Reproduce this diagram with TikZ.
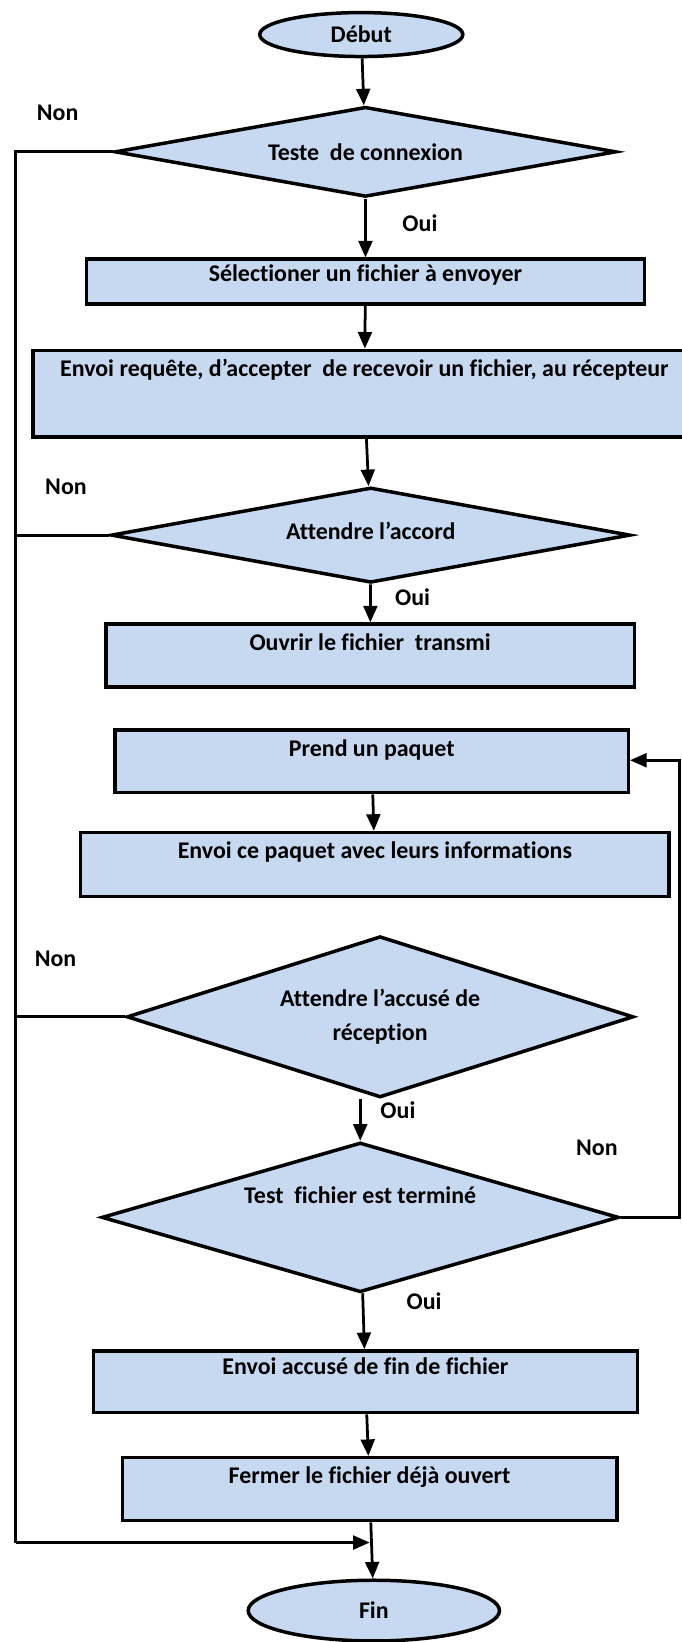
\documentclass[tikz,border=0pt]{standalone}
\usepackage{fontspec}
\setmainfont{Carlito}[Ligatures=CommonOff]
\usepackage{tikz}
\usetikzlibrary{shapes.geometric, arrows.meta}

\definecolor{boxblue}{RGB}{198,217,241}

\begin{document}
\begin{tikzpicture}[
            x=0.02cm, y=-0.02cm,
            % --- Styles for the nodes ---
            txt/.style={font=\fontsize{13pt}{15.5pt}\selectfont\bfseries},
            block/.style={
                txt, draw, line width=1.9pt, fill=boxblue, rectangle, inner sep=0pt, text height=9pt
            },
            decision/.style={block, diamond, aspect=4},
            terminal/.style={block, ellipse},
            answer/.style={txt},
            % --- Styles for the connectors ---
            link/.style={line width=1.5pt},
            flow/.style={link, -{Triangle[length=9pt, width=7.5pt]}}
        ]

        \useasboundingbox (0,0) rectangle (651,1568);

        % --- Start ---
        \node[terminal, minimum width=3.88cm, minimum height=0.84cm] (debut) at (345, 33) {Début};

        % --- Connection test ---
        \node[decision, minimum width=9.58cm, minimum height=1.72cm] (connect) at (349, 145) {Teste~ de connexion};
        \node[answer] (non1) at (55, 108) {Non};
        \node[answer] (oui1) at (401, 213) {Oui};

        \node[block, minimum width=10.66cm, minimum height=0.86cm, text depth=9.5pt] (select) at (349, 269) {Sélectioner un fichier à envoyer};
        \node[block, minimum width=12.66cm, minimum height=1.66cm, text depth=28pt] (request) at (348, 376) {Envoi requête, d’accepter~ de recevoir un fichier, au récepteur};

        % --- Waiting for the agreement ---
        \node[decision, minimum width=9.92cm, minimum height=1.82cm, text depth=4.5pt] (accord) at (354, 511) {Attendre l’accord};
        \node[answer] (non2) at (63, 465) {Non};
        \node[answer] (oui2) at (394, 570) {Oui};

        \node[block, minimum width=10.1cm, minimum height=1.2cm, text depth=14.7pt] (open) at (353.5, 626) {Ouvrir le fichier~ transmi};

        % --- Packet loop ---
        \node[block, minimum width=9.8cm, minimum height=1.2cm, text depth=14.7pt] (take) at (355, 727) {Prend un paquet};
        \node[block, minimum width=11.24cm, minimum height=1.22cm, text depth=15.2pt] (send) at (358, 825.5) {Envoi ce paquet avec leurs informations};

        \node[decision, minimum width=9.68cm, minimum height=3.08cm, align=center, text height={}] (ack) at (363, 971) {Attendre l’accusé de\\[3pt]réception};
        \node[answer] (non3) at (53, 916) {Non};
        \node[answer] (oui3) at (380, 1060) {Oui};

        \node[decision, minimum width=9.88cm, minimum height=2.86cm, text depth=24.3pt] (check) at (344, 1162.5) {Test~ fichier est terminé};
        \node[answer] (non4) at (570, 1096) {Non};
        \node[answer] (oui4) at (405, 1243) {Oui};

        % --- End of transfer ---
        \node[block, minimum width=10.4cm, minimum height=1.18cm, text depth=16.4pt] (ackend) at (349, 1319.5) {Envoi accusé de fin de fichier};
        \node[block, minimum width=9.44cm, minimum height=1.2cm, text depth=14.7pt] (close) at (353, 1422) {Fermer le fichier déjà ouvert};
        \node[terminal, minimum width=4.8cm, minimum height=1.16cm] (fin) at (357, 1538) {Fin};

        % --- Main flow ---
        \draw[flow] (debut) -- (connect);
        \draw[flow] (connect) -- (select);
        \draw[flow] (select) -- (request);
        \draw[flow] (request) -- (accord);
        \draw[flow] (accord) -- (open);
        \draw[flow] (take) -- (send);
        \draw[flow] (check.north |- ack.south) -- (check.north);
        \draw[flow] (check) -- (ackend);
        \draw[flow] (ackend) -- (close);
        \draw[flow] (close) -- (fin);

        % --- "Non" branches down the left side ---
        \coordinate (rail) at (15, 1473);
        \draw[link] (connect.west) -- (connect.west -| rail) -- (rail);
        \draw[link] (accord.west) -- (accord.west -| rail);
        \draw[link] (ack.west) -- (ack.west -| rail);
        \draw[flow] (rail) -- (rail -| close.south);

        % --- Back to the next packet ---
        \coordinate (loop) at (649, 726);
        \draw[flow] (check.east) -| (loop) -- (take.east |- loop);

        \end{tikzpicture}
\end{document}
